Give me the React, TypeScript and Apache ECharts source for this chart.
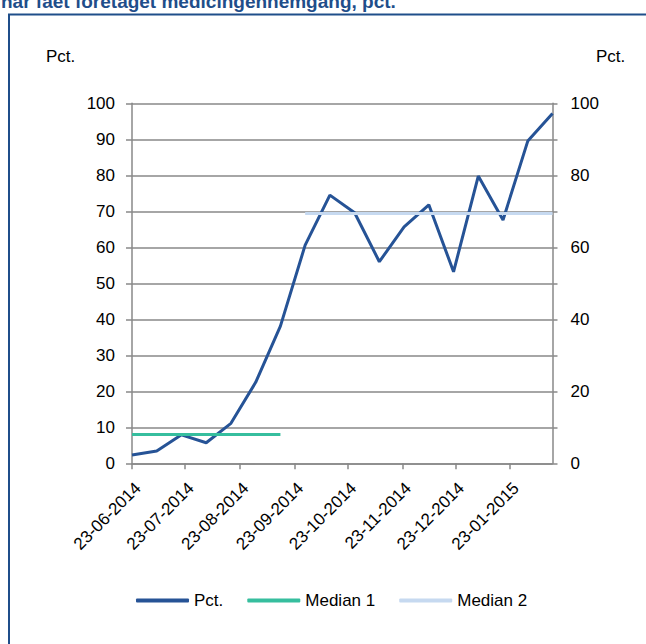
import React, { useEffect, useRef } from "react";
import * as echarts from "echarts";

const dates: string[] = [
  "2014-06-23", "2014-07-07", "2014-07-21", "2014-08-04", "2014-08-18", "2014-09-01",
  "2014-09-15", "2014-09-29", "2014-10-13", "2014-10-27", "2014-11-10", "2014-11-24",
  "2014-12-08", "2014-12-22", "2015-01-05", "2015-01-19", "2015-02-02", "2015-02-16",
];
const pct: number[] = [2.3, 3.4, 7.9, 5.7, 11.1, 22.5, 38.1, 60.6, 74.5, 69.6, 56.0, 65.7, 71.8, 53.2, 79.8, 67.6, 89.5, 97.2];
const median1: (number | null)[] = [8.0, 8.0, 8.0, 8.0, 8.0, 8.0, 8.0, null, null, null, null, null, null, null, null, null, null, null];
const median2: (number | null)[] = [null, null, null, null, null, null, null, 69.4, 69.4, 69.4, 69.4, 69.4, 69.4, 69.4, 69.4, 69.4, 69.4, 69.4];
const tickDates: string[] = [
  "2014-06-23", "2014-07-23", "2014-08-23", "2014-09-23", "2014-10-23", "2014-11-23", "2014-12-23", "2015-01-23",
];
const titleText = "har fået foretaget medicingennemgang, pct.";
const seriesNames = ["Pct.", "Median 1", "Median 2"];

const toTs = (s: string) => {
  const [y, m, d] = s.split("-").map(Number);
  return new Date(y, m - 1, d).getTime();
};
const pad = (n: number) => (n < 10 ? "0" + n : "" + n);
const fmt = (v: number) => {
  const d = new Date(v);
  return pad(d.getDate()) + "-" + pad(d.getMonth() + 1) + "-" + d.getFullYear();
};

const FONT = "'Liberation Sans', Arial, sans-serif";
const GRID = "#888888";
const DARK = "#1F4E8A";

export default function App() {
  const ref = useRef<HTMLDivElement>(null);
  useEffect(() => {
    if (!ref.current) return;
    const chart = echarts.init(ref.current, null, { renderer: "svg" });
    const ticks = tickDates.map(toTs);
    const xs = dates.map(toTs);
    const mk = (arr: (number | null)[]) => xs.map((x, i) => [x, arr[i]]);
    chart.setOption({
      animation: false,
      backgroundColor: "#ffffff",
      textStyle: { fontFamily: FONT },
      grid: { left: 132, right: 93.5, top: 103.3, bottom: 180.7, containLabel: false },
      legend: {
        data: seriesNames,
        left: 131,
        top: 587,
        icon: "roundRect",
        itemWidth: 53,
        itemHeight: 4,
        itemGap: 24,
        textStyle: { fontSize: 17, color: "#000", fontFamily: FONT },
      },
      xAxis: {
        type: "value",
        min: xs[0],
        max: xs[xs.length - 1],
        scale: true,
        splitLine: { show: false },
        axisLine: { show: true, lineStyle: { color: GRID, width: 1.5 } },
        axisTick: { show: true, length: 6, customValues: ticks, lineStyle: { color: GRID, width: 1.5 } },
        axisLabel: {
          customValues: ticks,
          rotate: 45,
          margin: 16,
          align: "right",
          verticalAlign: "top",
          fontSize: 17,
          color: "#000",
          fontFamily: FONT,
          hideOverlap: false,
          formatter: (v: number) => fmt(v),
        },
      },
      yAxis: [
        {
          type: "value",
          min: 0,
          max: 100,
          interval: 10,
          position: "left",
          axisLine: { show: true, lineStyle: { color: GRID, width: 1.5 } },
          axisTick: { show: true, length: 6, lineStyle: { color: GRID, width: 1.5 } },
          splitLine: { show: true, lineStyle: { color: GRID, width: 1.5 } },
          axisLabel: { margin: 17, fontSize: 17, color: "#000", fontFamily: FONT },
        },
        {
          type: "value",
          min: 0,
          max: 100,
          interval: 10,
          position: "right",
          axisLine: { show: true, lineStyle: { color: GRID, width: 1.5 } },
          axisTick: { show: true, length: 5, lineStyle: { color: GRID, width: 1.5 } },
          splitLine: { show: false },
          axisLabel: {
            margin: 18,
            fontSize: 17,
            color: "#000",
            fontFamily: FONT,
            formatter: (v: number) => (v % 20 === 0 ? String(v) : ""),
          },
        },
      ],
      series: [
        {
          name: seriesNames[0],
          type: "line",
          data: mk(pct),
          symbol: "none",
          color: "#265396",
          lineStyle: { width: 3, color: "#265396" },
        },
        {
          name: seriesNames[1],
          type: "line",
          data: mk(median1),
          symbol: "none",
          connectNulls: false,
          color: "#36BE9E",
          lineStyle: { width: 3, color: "#36BE9E" },
        },
        {
          name: seriesNames[2],
          type: "line",
          data: mk(median2),
          symbol: "none",
          connectNulls: false,
          color: "#C6D9F0",
          lineStyle: { width: 3, color: "#C6D9F0" },
        },
      ],
      graphic: [
        {
          type: "rect",
          shape: { x: 9, y: 14.5, width: 700, height: 700 },
          style: { fill: "none", stroke: DARK, lineWidth: 2 },
          silent: true,
        },
        {
          type: "text",
          x: 1,
          y: 11,
          style: {
            text: titleText,
            font: "bold 19px " + FONT,
            fill: DARK,
            verticalAlign: "bottom",
            align: "left",
          },
        },
        {
          type: "text",
          x: 46,
          y: 56,
          style: { text: "Pct.", font: "17px " + FONT, fill: "#000", verticalAlign: "middle" },
        },
        {
          type: "text",
          x: 596,
          y: 56,
          style: { text: "Pct.", font: "17px " + FONT, fill: "#000", verticalAlign: "middle" },
        },
      ],
    });
    return () => chart.dispose();
  }, []);
  return (
    <div
      ref={ref}
      style={{ position: "fixed", left: 0, top: 0, width: 646, height: 644, background: "#fff" }}
    />
  );
}
